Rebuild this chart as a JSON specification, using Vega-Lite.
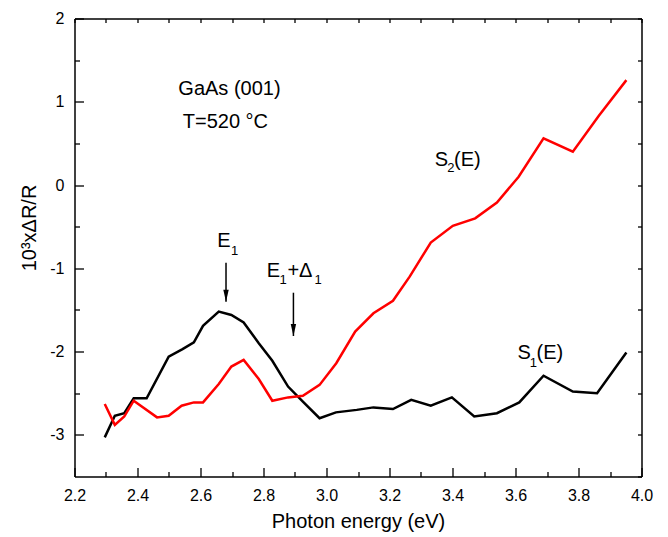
{
  "$schema": "https://vega.github.io/schema/vega-lite/v6.json",
  "width": 567,
  "height": 458,
  "autosize": "none",
  "padding": {"left": 74.5, "top": 18.5, "right": 26.5, "bottom": 60},
  "background": "white",
  "config": {
    "view": {"stroke": null},
    "font": "Liberation Sans",
    "axis": {
      "domainColor": "black",
      "domainWidth": 1.5,
      "tickColor": "black",
      "tickWidth": 1.3,
      "labelColor": "black",
      "titleColor": "black",
      "grid": false,
      "labelFont": "Liberation Sans",
      "titleFont": "Liberation Sans",
      "titleFontWeight": "normal"
    }
  },
  "datasets": {
    "curves": [
      {"E": 2.296, "v": -3.03, "s": "S1"},
      {"E": 2.328, "v": -2.77, "s": "S1"},
      {"E": 2.358, "v": -2.74, "s": "S1"},
      {"E": 2.388, "v": -2.56, "s": "S1"},
      {"E": 2.429, "v": -2.56, "s": "S1"},
      {"E": 2.499, "v": -2.06, "s": "S1"},
      {"E": 2.543, "v": -1.97, "s": "S1"},
      {"E": 2.579, "v": -1.89, "s": "S1"},
      {"E": 2.608, "v": -1.69, "s": "S1"},
      {"E": 2.658, "v": -1.52, "s": "S1"},
      {"E": 2.698, "v": -1.56, "s": "S1"},
      {"E": 2.737, "v": -1.65, "s": "S1"},
      {"E": 2.785, "v": -1.90, "s": "S1"},
      {"E": 2.828, "v": -2.11, "s": "S1"},
      {"E": 2.878, "v": -2.42, "s": "S1"},
      {"E": 2.925, "v": -2.60, "s": "S1"},
      {"E": 2.978, "v": -2.80, "s": "S1"},
      {"E": 3.030, "v": -2.73, "s": "S1"},
      {"E": 3.096, "v": -2.70, "s": "S1"},
      {"E": 3.149, "v": -2.67, "s": "S1"},
      {"E": 3.211, "v": -2.69, "s": "S1"},
      {"E": 3.269, "v": -2.58, "s": "S1"},
      {"E": 3.331, "v": -2.65, "s": "S1"},
      {"E": 3.398, "v": -2.55, "s": "S1"},
      {"E": 3.469, "v": -2.78, "s": "S1"},
      {"E": 3.541, "v": -2.74, "s": "S1"},
      {"E": 3.612, "v": -2.61, "s": "S1"},
      {"E": 3.689, "v": -2.29, "s": "S1"},
      {"E": 3.782, "v": -2.48, "s": "S1"},
      {"E": 3.859, "v": -2.50, "s": "S1"},
      {"E": 3.952, "v": -2.01, "s": "S1"},
      {"E": 2.296, "v": -2.63, "s": "S2"},
      {"E": 2.328, "v": -2.88, "s": "S2"},
      {"E": 2.358, "v": -2.78, "s": "S2"},
      {"E": 2.388, "v": -2.59, "s": "S2"},
      {"E": 2.462, "v": -2.79, "s": "S2"},
      {"E": 2.499, "v": -2.77, "s": "S2"},
      {"E": 2.540, "v": -2.65, "s": "S2"},
      {"E": 2.579, "v": -2.61, "s": "S2"},
      {"E": 2.608, "v": -2.61, "s": "S2"},
      {"E": 2.658, "v": -2.39, "s": "S2"},
      {"E": 2.698, "v": -2.18, "s": "S2"},
      {"E": 2.737, "v": -2.10, "s": "S2"},
      {"E": 2.785, "v": -2.33, "s": "S2"},
      {"E": 2.828, "v": -2.59, "s": "S2"},
      {"E": 2.878, "v": -2.55, "s": "S2"},
      {"E": 2.925, "v": -2.53, "s": "S2"},
      {"E": 2.978, "v": -2.40, "s": "S2"},
      {"E": 3.031, "v": -2.14, "s": "S2"},
      {"E": 3.091, "v": -1.76, "s": "S2"},
      {"E": 3.149, "v": -1.54, "s": "S2"},
      {"E": 3.211, "v": -1.39, "s": "S2"},
      {"E": 3.264, "v": -1.10, "s": "S2"},
      {"E": 3.331, "v": -0.69, "s": "S2"},
      {"E": 3.401, "v": -0.49, "s": "S2"},
      {"E": 3.472, "v": -0.40, "s": "S2"},
      {"E": 3.541, "v": -0.21, "s": "S2"},
      {"E": 3.610, "v": 0.10, "s": "S2"},
      {"E": 3.689, "v": 0.56, "s": "S2"},
      {"E": 3.782, "v": 0.40, "s": "S2"},
      {"E": 3.864, "v": 0.83, "s": "S2"},
      {"E": 3.952, "v": 1.26, "s": "S2"}
    ],
    "notes": [
      {"E": 2.692, "v": 1.081, "t": "GaAs (001)", "k": "center"},
      {"E": 2.679, "v": 0.681, "t": "T=520 °C", "k": "center"},
      {"E": 3.344, "v": 0.232, "t": "S", "k": "main"},
      {"E": 3.383, "v": 0.160, "t": "2", "k": "sub"},
      {"E": 3.405, "v": 0.232, "t": "(E)", "k": "main"},
      {"E": 3.606, "v": -2.093, "t": "S", "k": "main"},
      {"E": 3.645, "v": -2.189, "t": "1", "k": "sub"},
      {"E": 3.667, "v": -2.093, "t": "(E)", "k": "main"},
      {"E": 2.653, "v": -0.748, "t": "E", "k": "main"},
      {"E": 2.697, "v": -0.840, "t": "1", "k": "sub"},
      {"E": 2.810, "v": -1.101, "t": "E", "k": "main"},
      {"E": 2.851, "v": -1.192, "t": "1", "k": "sub"},
      {"E": 2.876, "v": -1.101, "t": "+Δ", "k": "main"},
      {"E": 2.962, "v": -1.192, "t": "1", "k": "sub"}
    ],
    "arrows": [
      {"E": 2.681, "v": -0.933, "v2": -1.401},
      {"E": 2.895, "v": -1.293, "v2": -1.813}
    ]
  },
  "layer": [
    {
      "data": {"name": "curves"},
      "mark": {"type": "line", "strokeWidth": 2.5},
      "encoding": {
        "x": {
          "field": "E", "type": "quantitative",
          "scale": {"domain": [2.2, 4.0], "nice": false, "zero": false},
          "axis": {
            "orient": "bottom",
            "values": [2.2, 2.4, 2.6, 2.8, 3.0, 3.2, 3.4, 3.6, 3.8, 4.0],
            "format": ".1f",
            "tickSize": -9,
            "labelPadding": 20,
            "labelFontSize": 16,
            "labelFlush": false,
            "title": "Photon energy (eV)",
            "titleFontSize": 20,
            "titleY": 51,
            "titleBaseline": "alphabetic"
          }
        },
        "y": {
          "field": "v", "type": "quantitative",
          "scale": {"domain": [-3.5, 2], "nice": false, "zero": false},
          "axis": {
            "orient": "left",
            "values": [-3, -2, -1, 0, 1, 2],
            "labelExpr": "datum.value < 0 ? '-' + format(-datum.value, 'd') : format(datum.value, 'd')",
            "tickSize": -9,
            "labelPadding": 19.5,
            "labelFontSize": 16,
            "labelFlush": false,
            "title": "10³xΔR/R",
            "titleFontSize": 20,
            "titleX": -39.5,
            "titleY": 209,
            "titleAlign": "center",
            "titleBaseline": "alphabetic"
          }
        },
        "color": {
          "field": "s", "type": "nominal",
          "scale": {"domain": ["S1", "S2"], "range": ["#000000", "#ff0000"]},
          "legend": null
        }
      }
    },
    {
      "data": {"name": "notes"},
      "transform": [{"filter": "datum.k == 'main'"}],
      "mark": {"type": "text", "align": "left", "baseline": "alphabetic", "fontSize": 20, "color": "black"},
      "encoding": {
        "x": {
          "field": "E", "type": "quantitative",
          "scale": {"domain": [2.2, 4.0], "nice": false, "zero": false},
          "axis": {
            "orient": "bottom",
            "values": [2.3, 2.5, 2.7, 2.9, 3.1, 3.3, 3.5, 3.7, 3.9],
            "tickSize": -5,
            "labels": false,
            "domain": false,
            "title": null
          }
        },
        "y": {
          "field": "v", "type": "quantitative",
          "scale": {"domain": [-3.5, 2], "nice": false, "zero": false},
          "axis": {
            "orient": "left",
            "values": [-2.5, -1.5, -0.5, 0.5, 1.5],
            "tickSize": -5,
            "labels": false,
            "domain": false,
            "title": null
          }
        },
        "text": {"field": "t"}
      }
    },
    {
      "data": {"name": "notes"},
      "transform": [{"filter": "datum.k == 'sub'"}],
      "mark": {"type": "text", "align": "left", "baseline": "alphabetic", "fontSize": 13, "color": "black"},
      "encoding": {
        "x": {
          "field": "E", "type": "quantitative",
          "scale": {"domain": [2.2, 4.0], "nice": false, "zero": false},
          "axis": {
            "orient": "top",
            "values": [2.2, 2.3, 2.4, 2.5, 2.6, 2.7, 2.8, 2.9, 3.0, 3.1, 3.2, 3.3, 3.4, 3.5, 3.6, 3.7, 3.8, 3.9, 4.0],
            "tickSize": -4,
            "labels": false,
            "title": null
          }
        },
        "y": {
          "field": "v", "type": "quantitative",
          "scale": {"domain": [-3.5, 2], "nice": false, "zero": false},
          "axis": {
            "orient": "right",
            "values": [-3.5, -3, -2.5, -2, -1.5, -1, -0.5, 0, 0.5, 1, 1.5, 2],
            "tickSize": -4,
            "labels": false,
            "title": null
          }
        },
        "text": {"field": "t"}
      }
    },
    {
      "data": {"name": "notes"},
      "transform": [{"filter": "datum.k == 'center'"}],
      "mark": {"type": "text", "align": "center", "baseline": "alphabetic", "fontSize": 20, "color": "black"},
      "encoding": {
        "x": {"field": "E", "type": "quantitative", "scale": {"domain": [2.2, 4.0], "nice": false, "zero": false}, "axis": null},
        "y": {"field": "v", "type": "quantitative", "scale": {"domain": [-3.5, 2], "nice": false, "zero": false}, "axis": null},
        "text": {"field": "t"}
      }
    },
    {
      "data": {"name": "arrows"},
      "mark": {"type": "rule", "strokeWidth": 1.5, "color": "black"},
      "encoding": {
        "x": {"field": "E", "type": "quantitative", "scale": {"domain": [2.2, 4.0], "nice": false, "zero": false}, "axis": null},
        "y": {"field": "v", "type": "quantitative", "scale": {"domain": [-3.5, 2], "nice": false, "zero": false}, "axis": null},
        "y2": {"field": "v2"}
      }
    },
    {
      "data": {"name": "arrows"},
      "mark": {"type": "point", "shape": "M-0.9,-4L0,0L0.9,-4Z", "size": 36, "filled": true, "color": "black", "opacity": 1, "strokeWidth": 0},
      "encoding": {
        "x": {"field": "E", "type": "quantitative", "scale": {"domain": [2.2, 4.0], "nice": false, "zero": false}, "axis": null},
        "y": {"field": "v2", "type": "quantitative", "scale": {"domain": [-3.5, 2], "nice": false, "zero": false}, "axis": null}
      }
    }
  ],
  "resolve": {"axis": {"x": "independent", "y": "independent"}}
}
